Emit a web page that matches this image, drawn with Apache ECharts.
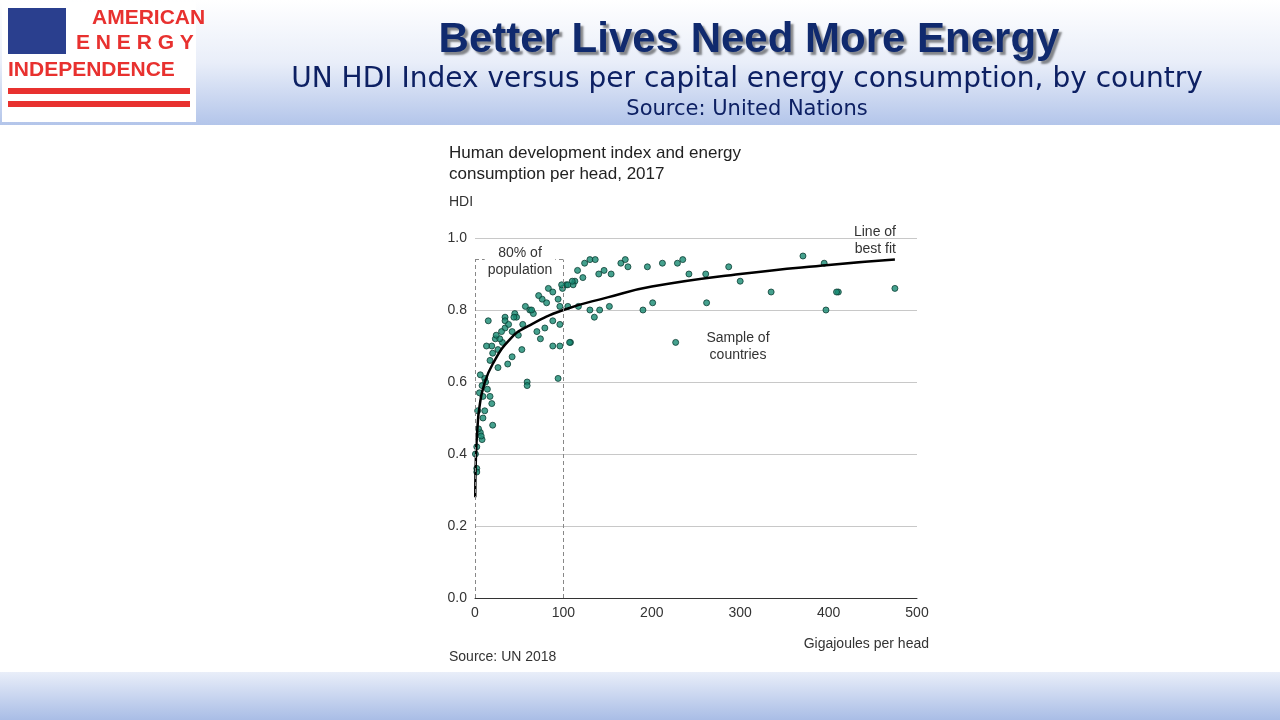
<!DOCTYPE html><html><head><meta charset="utf-8">
<script src="https://cdn.jsdelivr.net/npm/echarts@6/dist/echarts.min.js"></script>
<style>html,body{margin:0;padding:0;background:#fff}#c{width:1280px;height:720px}</style></head><body><div id="c"></div>
<script>
const xTicks=[0,100,200,300,400,500];
const yTicks=[0.0,0.2,0.4,0.6,0.8,1.0];
const countryGJ=[116,124,130,136,122,140,146,154,165,173,170,195,212,229,235,242,261,287,300,335,371,395,411,409,475,397,262,201,190,227,130,135,141,152,96,105,108,113,99,111,103,117,
15,34,45,57,66,76,81,83,88,94,98,105,110,70,79,74,88,96,88,96,107,94,59,59,53,42,37,26,20,31,34,42,49,54,19,17,23,11,6,8,14,17,19,11,3,9,20,6,8,2,0.5,2,2,4,9,34,62,47,26,28,12,5,7,13,24,30,38,44,64,72,90];
const countryHDI=[0.91,0.93,0.94,0.94,0.89,0.90,0.91,0.90,0.93,0.92,0.94,0.92,0.93,0.93,0.94,0.90,0.90,0.92,0.88,0.85,0.95,0.93,0.85,0.85,0.86,0.80,0.82,0.82,0.80,0.71,0.80,0.78,0.80,0.81,0.81,0.81,0.71,0.88,0.86,0.87,0.87,0.81,
0.77,0.78,0.79,0.81,0.79,0.83,0.82,0.86,0.85,0.83,0.87,0.87,0.88,0.74,0.75,0.72,0.77,0.76,0.70,0.70,0.71,0.61,0.60,0.59,0.69,0.67,0.65,0.64,0.68,0.71,0.75,0.74,0.73,0.76,0.70,0.66,0.72,0.61,0.62,0.59,0.58,0.56,0.54,0.52,0.52,0.50,0.48,0.46,0.44,0.42,0.40,0.36,0.35,0.47,0.56,0.77,0.80,0.78,0.69,0.72,0.60,0.57,0.45,0.70,0.73,0.74,0.76,0.78,0.80,0.84];
const fitGJ=[0.3,1,3,5,10,20,40,60,100,150,200,300,400,475];
const fitHDI=[0.28,0.39,0.48,0.53,0.59,0.65,0.72,0.755,0.80,0.835,0.865,0.90,0.925,0.94];
const pts=countryGJ.map((x,i)=>[x,countryHDI[i]]);
const fit=fitGJ.map((x,i)=>[x,fitHDI[i]]);
const ch=echarts.init(document.getElementById('c'));
const navy='#0d2063',red='#e8312f';
const dash={type:[4,3],color:'#888',width:1};
ch.setOption({
 animation:false,
 graphic:[
  {type:'rect',shape:{x:0,y:0,width:1280,height:125},style:{fill:new echarts.graphic.LinearGradient(0,0,0,1,[{offset:0,color:'#ffffff'},{offset:0.5,color:'#e9eef9'},{offset:1,color:'#b3c5ea'}])},z:-1},
  {type:'rect',shape:{x:0,y:672,width:1280,height:48},style:{fill:new echarts.graphic.LinearGradient(0,0,0,1,[{offset:0,color:'#e9eef9'},{offset:1,color:'#a9bde6'}])},z:-1},
  {type:'rect',shape:{x:2,y:2,width:194,height:120},style:{fill:'#fff'}},
  {type:'rect',shape:{x:8,y:8,width:58,height:46},style:{fill:'#2a3f8e'}},
  {type:'text',x:92,y:8,style:{text:'AMERICAN',fill:red,font:'bold 21px "Liberation Sans"'}},
  {type:'text',x:76,y:33,style:{text:'E N E R G Y',fill:red,font:'bold 21px "Liberation Sans"'}},
  {type:'text',x:8,y:60,style:{text:'INDEPENDENCE',fill:red,font:'bold 21px "Liberation Sans"'}},
  {type:'rect',shape:{x:8,y:88,width:182,height:6},style:{fill:red}},
  {type:'rect',shape:{x:8,y:101,width:182,height:6},style:{fill:red}},
  {type:'text',x:749,y:40,style:{text:'Better Lives Need More Energy',fill:'#102a6e',font:'bold 42px "Liberation Sans"',align:'center',verticalAlign:'middle',textShadowColor:'rgba(0,0,0,0.45)',textShadowOffsetX:3,textShadowOffsetY:3,textShadowBlur:2}},
  {type:'text',x:747,y:80,style:{text:'UN HDI Index versus per capital energy consumption, by country',fill:navy,font:'28px "DejaVu Sans"',align:'center',verticalAlign:'middle'}},
  {type:'text',x:747,y:110,style:{text:'Source: United Nations',fill:navy,font:'21px "DejaVu Sans"',align:'center',verticalAlign:'middle'}},
  {type:'text',x:449,y:143,style:{text:'Human development index and energy\nconsumption per head, 2017',fill:'#222',font:'17px "Liberation Sans"',lineHeight:21}},
  {type:'text',x:449,y:195,style:{text:'HDI',fill:'#333',font:'14px "Liberation Sans"'}},
  {type:'text',x:929,y:637,style:{text:'Gigajoules per head',fill:'#333',font:'14px "Liberation Sans"',align:'right'}},
  {type:'text',x:449,y:650,style:{text:'Source: UN 2018',fill:'#333',font:'14px "Liberation Sans"'}},
  {type:'text',x:520,y:262,style:{text:'80% of\npopulation',fill:'#333',font:'14px "Liberation Sans"',align:'center',verticalAlign:'middle',lineHeight:17,backgroundColor:'#fff',padding:[0,3]},z:10},
  {type:'text',x:896,y:241,style:{text:'Line of\nbest fit',fill:'#333',font:'14px "Liberation Sans"',align:'right',verticalAlign:'middle',lineHeight:17}},
  {type:'text',x:738,y:347,style:{text:'Sample of\ncountries',fill:'#333',font:'14px "Liberation Sans"',align:'center',verticalAlign:'middle',lineHeight:17}}
 ],
 grid:{left:475,right:363,top:238,bottom:122},
 xAxis:{type:'value',min:0,max:500,interval:100,axisLine:{show:true,lineStyle:{color:'#333'}},axisTick:{show:false},splitLine:{show:false},axisLabel:{color:'#333',fontSize:14,fontFamily:'Liberation Sans',margin:8}},
 yAxis:{type:'value',min:0,max:1,interval:0.2,axisLine:{show:false},axisTick:{show:false},splitLine:{lineStyle:{color:'#c8c8c8'}},axisLabel:{color:'#333',fontSize:14,fontFamily:'Liberation Sans',formatter:v=>v.toFixed(1),margin:8}},
 series:[
  {type:'line',data:[],markLine:{silent:true,symbol:'none',label:{show:false},lineStyle:dash,data:[[{coord:[0,0]},{coord:[0,0.94]}],[{coord:[100,0]},{coord:[100,0.94]}],[{coord:[0,0.94]},{coord:[100,0.94]}]]}},
  {type:'scatter',data:pts,symbolSize:6,itemStyle:{color:'#178a72',borderColor:'#0b3d33',borderWidth:1},z:3},
  {type:'line',data:fit,smooth:true,showSymbol:false,lineStyle:{color:'#000',width:2.5},z:4}
 ]
});
</script></body></html>
